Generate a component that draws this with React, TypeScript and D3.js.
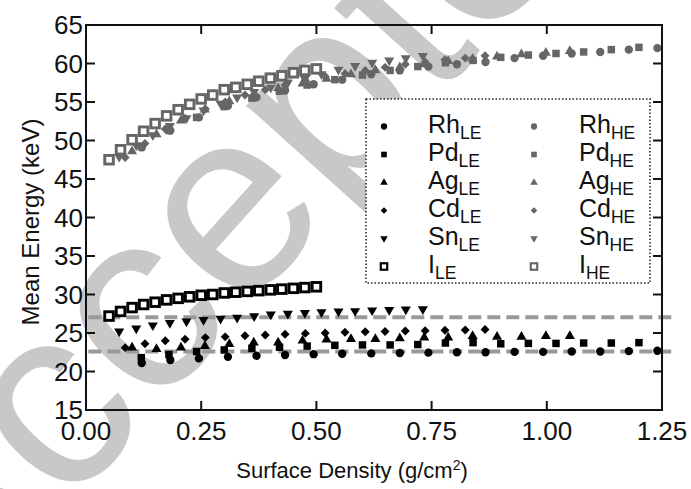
import React from "react";
import * as d3 from "d3";

const W = 691;
const H = 489;
const plot = { left: 86, right: 662, top: 25, bottom: 410 };

// axes
const xTickValues = [0, 0.25, 0.5, 0.75, 1.0, 1.25];
const yTickValues = [15, 20, 25, 30, 35, 40, 45, 50, 55, 60, 65];
const refLines = [27.05, 22.6];

// surface densities (g/cm^2) per filter element
const rhX = [0.121, 0.183, 0.245, 0.308, 0.37, 0.432, 0.494, 0.556, 0.619, 0.681, 0.743, 0.805, 0.867, 0.93, 0.992, 1.054, 1.116, 1.178, 1.24];
const pdX = [0.12, 0.18, 0.24, 0.3, 0.36, 0.42, 0.48, 0.54, 0.6, 0.66, 0.72, 0.78, 0.84, 0.9, 0.96, 1.02, 1.08, 1.14, 1.2];
const agX = [0.1, 0.153, 0.206, 0.258, 0.311, 0.364, 0.417, 0.47, 0.522, 0.575, 0.628, 0.681, 0.734, 0.786, 0.839, 0.892, 0.945, 0.998, 1.05];
const cdX = [0.085, 0.128, 0.172, 0.215, 0.259, 0.302, 0.345, 0.389, 0.432, 0.476, 0.519, 0.562, 0.606, 0.649, 0.693, 0.736, 0.779, 0.823, 0.866];
const snX = [0.072, 0.109, 0.145, 0.182, 0.218, 0.255, 0.292, 0.328, 0.365, 0.401, 0.438, 0.475, 0.511, 0.548, 0.584, 0.621, 0.658, 0.694, 0.731];
const iX = [0.05, 0.075, 0.1, 0.125, 0.15, 0.175, 0.2, 0.225, 0.25, 0.275, 0.3, 0.325, 0.35, 0.375, 0.4, 0.425, 0.45, 0.475, 0.5];

// mean energies (keV), low-energy bin
const rhLE = [21.1, 21.5, 21.7, 21.9, 22.05, 22.15, 22.25, 22.3, 22.35, 22.4, 22.45, 22.5, 22.5, 22.55, 22.55, 22.6, 22.6, 22.65, 22.7];
const pdLE = [21.8, 22.2, 22.6, 22.8, 23.0, 23.15, 23.3, 23.4, 23.45, 23.45, 23.5, 23.7, 23.75, 23.6, 23.65, 23.65, 23.7, 23.7, 23.75];
const agLE = [23.1, 22.9, 23.1, 23.3, 23.55, 23.75, 23.75, 24.0, 24.15, 24.2, 24.2, 24.3, 24.4, 24.4, 24.6, 24.5, 24.5, 24.6, 24.6];
const cdLE = [23.1, 23.6, 24.0, 24.2, 24.4, 24.5, 24.65, 24.75, 24.85, 24.95, 25.0, 25.1, 25.15, 25.2, 25.25, 25.3, 25.35, 25.4, 25.45];
const snLE = [25.2, 25.6, 26.0, 26.3, 26.5, 26.7, 26.85, 27.0, 27.2, 27.4, 27.5, 27.6, 27.7, 27.8, 27.85, 27.95, 28.0, 28.05, 28.1];
const iLE = [27.2, 27.8, 28.3, 28.7, 29.0, 29.3, 29.5, 29.7, 29.9, 30.0, 30.2, 30.3, 30.4, 30.5, 30.6, 30.7, 30.8, 30.9, 31.0];

// mean energies (keV), high-energy bin
const rhHE = [49.1, 51.3, 53.0, 54.5, 55.6, 56.5, 57.3, 57.9, 58.6, 59.1, 59.6, 59.9, 60.2, 60.7, 61.0, 61.3, 61.5, 61.8, 62.0];
const pdHE = [49.2, 51.3, 53.0, 54.4, 55.5, 56.4, 57.2, 57.9, 58.5, 59.1, 59.6, 60.1, 60.4, 60.8, 61.1, 61.3, 61.5, 61.8, 62.1];
const agHE = [48.6, 50.8, 52.6, 54.0, 55.1, 56.0, 56.8, 57.4, 58.0, 58.6, 59.1, 59.5, 59.9, 60.3, 60.6, 60.9, 61.2, 61.4, 61.6];
const cdHE = [47.8, 49.6, 51.5, 52.9, 54.1, 55.0, 55.9, 56.6, 57.2, 57.8, 58.3, 58.7, 59.1, 59.5, 59.9, 60.2, 60.5, 60.7, 61.0];
const snHE = [47.9, 49.4, 50.7, 51.9, 52.9, 53.9, 54.8, 55.6, 56.3, 56.9, 57.5, 58.0, 58.6, 59.2, 59.7, 60.1, 60.4, 60.7, 61.0];
const iHE = [47.5, 48.8, 50.1, 51.2, 52.2, 53.2, 54.0, 54.7, 55.4, 55.9, 56.6, 56.9, 57.3, 57.7, 58.1, 58.4, 58.8, 59.1, 59.3];

const elements = ["Rh", "Pd", "Ag", "Cd", "Sn", "I"];
const bins = ["LE", "HE"];

type Shape = "circle" | "square" | "triangleUp" | "triangleDown" | "diamond" | "openSquare";

const shapes: Shape[] = ["circle", "square", "triangleUp", "diamond", "triangleDown", "openSquare"];
const xs = [rhX, pdX, agX, cdX, snX, iX];
const lowE = [rhLE, pdLE, agLE, cdLE, snLE, iLE];
const highE = [rhHE, pdHE, agHE, cdHE, snHE, iHE];

const LE_COLOR = "#000000";
const HE_COLOR = "#666666";
const FONT = "'Liberation Sans', Arial, Helvetica, sans-serif";

function Marker({ shape, x, y, color, scale }: { shape: Shape; x: number; y: number; color: string; scale: number }) {
  if (shape === "openSquare") {
    const s = 8.6 * scale;
    return (
      <rect x={x - s / 2} y={y - s / 2} width={s} height={s} fill="#ffffff" stroke={color} strokeWidth={2.9 * scale} />
    );
  }
  let type: d3.SymbolType = d3.symbolCircle;
  let size = 55;
  let rotate = 0;
  if (shape === "square") { type = d3.symbolSquare; size = 56; }
  if (shape === "triangleUp") { type = d3.symbolTriangle; size = 44; }
  if (shape === "triangleDown") { type = d3.symbolTriangle; size = 44; rotate = 180; }
  if (shape === "diamond") { type = d3.symbolSquare; size = 40; rotate = 45; }
  const path = d3.symbol().type(type).size(size * scale * scale)() as string;
  return <path d={path} fill={color} transform={`translate(${x},${y}) rotate(${rotate})`} />;
}

export default function App() {
  const xScale = d3.scaleLinear().domain([0, 1.25]).range([plot.left, plot.right]);
  const yScale = d3.scaleLinear().domain([15, 65]).range([plot.bottom, plot.top]);
  const tickLen = 9;

  const legendRows = elements.map((el, i) => ({ el, i, baseline: 133 + i * 28 }));

  return (
    <div style={{ position: "absolute", left: 0, top: 0 }}>
      <svg width={W} height={H} viewBox={`0 0 ${W} ${H}`} style={{ display: "block", background: "#fff" }} fontFamily={FONT}>
        <rect x={0} y={0} width={W} height={H} fill="#ffffff" />

        {/* watermark */}
        <text transform="translate(-50,640) rotate(-48)" fontSize={260} fill="#c8c8c8" fontFamily={FONT}>
          Accepted
        </text>

        {/* reference energy lines */}
        {refLines.map((v) => (
          <line
            key={v}
            x1={xScale(0.005)}
            x2={xScale(1.27)}
            y1={yScale(v)}
            y2={yScale(v)}
            stroke="#999999"
            strokeWidth={4}
            strokeDasharray="13 6"
          />
        ))}

        {/* data points: high-energy bin first, then low-energy bin */}
        {[1, 0].map((b) =>
          elements.map((el, ei) => {
            const vals = b === 0 ? lowE[ei] : highE[ei];
            const color = b === 0 ? LE_COLOR : HE_COLOR;
            return (
              <g key={`${el}-${bins[b]}`}>
                {vals.map((v, k) => (
                  <Marker key={k} shape={shapes[ei]} x={xScale(xs[ei][k])} y={yScale(v)} color={color} scale={1} />
                ))}
              </g>
            );
          })
        )}

        {/* frame */}
        <rect
          x={plot.left}
          y={plot.top}
          width={plot.right - plot.left}
          height={plot.bottom - plot.top}
          fill="none"
          stroke="#111"
          strokeWidth={2}
        />

        {/* inward ticks on all sides */}
        {xTickValues.slice(1, -1).map((t) => (
          <g key={`xt${t}`} stroke="#111" strokeWidth={2}>
            <line x1={xScale(t)} x2={xScale(t)} y1={plot.bottom} y2={plot.bottom - tickLen} />
            <line x1={xScale(t)} x2={xScale(t)} y1={plot.top} y2={plot.top + tickLen} />
          </g>
        ))}
        {yTickValues.slice(1, -1).map((t) => (
          <g key={`yt${t}`} stroke="#111" strokeWidth={2}>
            <line x1={plot.left} x2={plot.left + tickLen} y1={yScale(t)} y2={yScale(t)} />
            <line x1={plot.right} x2={plot.right - tickLen} y1={yScale(t)} y2={yScale(t)} />
          </g>
        ))}

        {/* tick labels */}
        {xTickValues.map((t) => (
          <text key={`xl${t}`} x={xScale(t)} y={440} textAnchor="middle" fontSize={26} fill="#111">
            {d3.format(".2f")(t)}
          </text>
        ))}
        {yTickValues.map((t) => (
          <text key={`yl${t}`} x={83} y={yScale(t)} dy="0.36em" textAnchor="end" fontSize={26} fill="#111">
            {t}
          </text>
        ))}

        {/* axis titles */}
        <text x={352} y={478} textAnchor="middle" fontSize={22} fill="#111">
          Surface Density (g/cm<tspan dy={-8} fontSize={14}>2</tspan>
          <tspan dy={8}>)</tspan>
        </text>
        <text transform="translate(39,222) rotate(-90)" textAnchor="middle" fontSize={24} fill="#111">
          Mean Energy (keV)
        </text>

        {/* legend */}
        <rect x={366} y={99} width={284} height={184} fill="#ffffff" stroke="#222" strokeWidth={1.5} strokeDasharray="1.5 2" />
        {legendRows.map(({ el, i, baseline }) => (
          <g key={`lg${el}`}>
            <Marker shape={shapes[i]} x={384} y={baseline - 6.5} color={LE_COLOR} scale={0.75} />
            <text x={428} y={baseline} fontSize={25} fill="#111">
              {el}
              <tspan dy={6} fontSize={17.5}>LE</tspan>
            </text>
            <Marker shape={shapes[i]} x={534} y={baseline - 6.5} color={HE_COLOR} scale={0.75} />
            <text x={579} y={baseline} fontSize={25} fill="#111">
              {el}
              <tspan dy={6} fontSize={17.5}>HE</tspan>
            </text>
          </g>
        ))}
      </svg>
    </div>
  );
}
